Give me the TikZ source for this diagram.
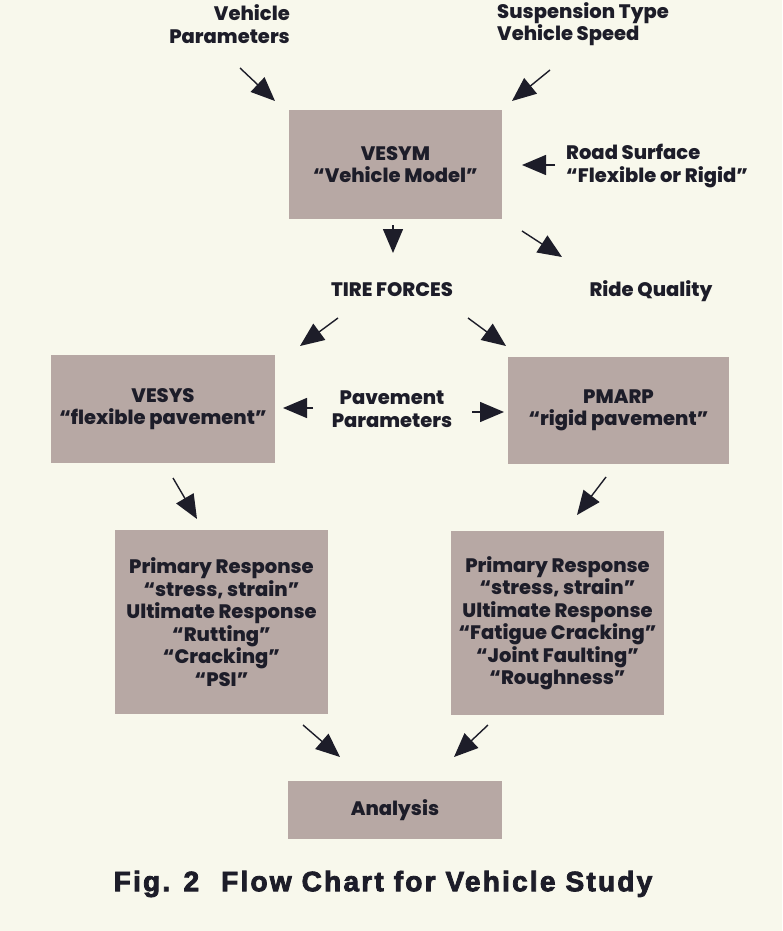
\documentclass[tikz,border=0pt]{standalone}
\usepackage{fontspec}
\setmainfont{Poppins}[BoldFont={Poppins ExtraBold}]
\newfontfamily\capfont{Liberation Sans}[LetterSpace=8,FakeBold=3]
\usetikzlibrary{arrows.meta}
\definecolor{paper}{HTML}{F8F8EC}
\definecolor{mauve}{HTML}{B7A8A4}
\definecolor{ink}{HTML}{1D1D29}
\begin{document}
\begin{tikzpicture}[x=1pt,y=-1pt,
  box/.style={fill=mauve,draw=none,inner sep=0pt,align=center,text=ink},
  lbl/.style={text=ink,inner sep=0pt},
  flow/.style={draw=ink,line width=1.4pt,-{Triangle[length=24pt,width=20pt]}},
  font=\fontsize{19.5}{22.5}\selectfont\bfseries]
\useasboundingbox[fill=paper] (0,0) rectangle (782,931);
% boxes
\node[box,minimum width=213pt,minimum height=109pt] (vesym) at (395.5,164.5) {VESYM\\``Vehicle Model''};
\node[box,minimum width=224pt,minimum height=108pt] (vesys) at (163,409) {VESYS\\``flexible pavement''};
\node[box,minimum width=221pt,minimum height=107pt] (pmarp) at (618.5,410.5) {PMARP\\``rigid pavement''};
\node[box,minimum width=213pt,minimum height=184pt] (flexresp) at (221.5,622) {Primary Response\\``stress, strain''\\Ultimate Response\\``Rutting''\\``Cracking''\\``PSI''};
\node[box,minimum width=213pt,minimum height=184pt] (rigidresp) at (557.5,623) {Primary Response\\``stress, strain''\\Ultimate Response\\``Fatigue Cracking''\\``Joint Faulting''\\``Roughness''};
\node[box,minimum width=214pt,minimum height=58pt] (analysis) at (395,810) {Analysis};
% labels
\node[lbl,align=right,anchor=east] (vehpar) at (290,24) {Vehicle\\Parameters};
\node[lbl,align=left,anchor=west] (susp) at (497,24) {Suspension Type\\Vehicle Speed};
\node[lbl,align=left,anchor=west] (road) at (566,166) {Road Surface\\``Flexible or Rigid''};
\node[lbl] (tire) at (392,290) {TIRE FORCES};
\node[lbl] (ride) at (651,291) {Ride Quality};
\node[lbl,align=center] (pave) at (392,409) {Pavement\\Parameters};
\node[lbl,font=\capfont\fontsize{28}{31}\selectfont\bfseries] (caption) at (383,884) {Fig. 2\hspace{22pt}Flow Chart for Vehicle Study};
% arrow ends
\coordinate (a1) at (240,68);  \coordinate (b1) at (275,101);
\coordinate (a2) at (550,70);  \coordinate (b2) at (512,101);
\coordinate (a3) at (555,165); \coordinate (b3) at (522,165);
\coordinate (a4) at (393,225); \coordinate (b4) at (393,253);
\coordinate (a5) at (522,231); \coordinate (b5) at (562,257);
\coordinate (a6) at (338,318); \coordinate (b6) at (300,346);
\coordinate (a7) at (468,318); \coordinate (b7) at (506,346);
\coordinate (a8) at (313,408); \coordinate (b8) at (283,408);
\coordinate (a9) at (472,412); \coordinate (b9) at (504,412);
\coordinate (a10) at (173,478); \coordinate (b10) at (197,519);
\coordinate (a11) at (606,477); \coordinate (b11) at (577,515);
\coordinate (a12) at (303,725); \coordinate (b12) at (340,757);
\coordinate (a13) at (488,725); \coordinate (b13) at (454,757);
\foreach \i in {1,...,13}
  \draw[flow] (a\i) -- (b\i);
\end{tikzpicture}
\end{document}
